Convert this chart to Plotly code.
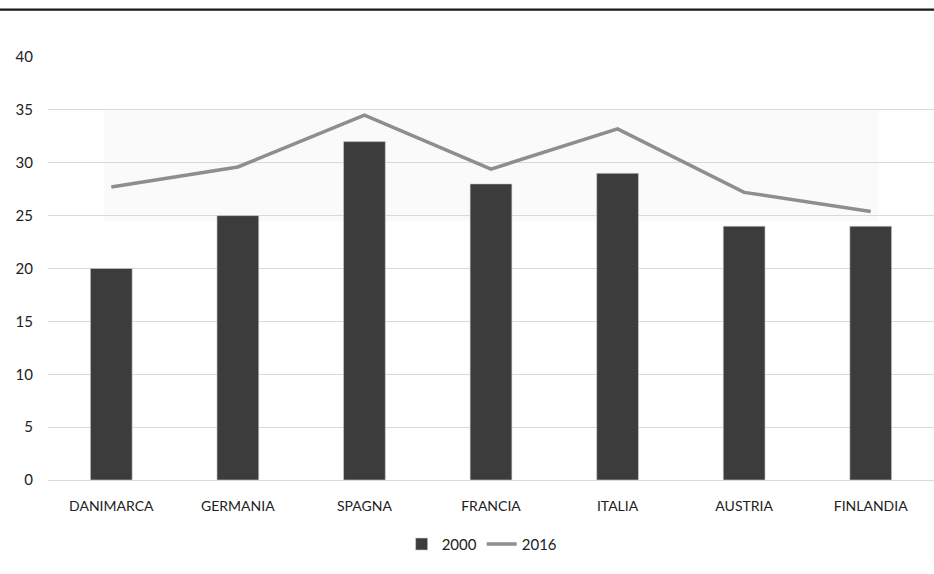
import plotly.graph_objects as go

paesi = ["DANIMARCA", "GERMANIA", "SPAGNA", "FRANCIA", "ITALIA", "AUSTRIA", "FINLANDIA"]
valori_2000 = [20, 25, 32, 28, 29, 24, 24]
valori_2016 = [27.7, 29.6, 34.5, 29.4, 33.2, 27.2, 25.4]
tick_y = [0, 5, 10, 15, 20, 25, 30, 35, 40]

FONT = "Lato, 'Open Sans', sans-serif"

fig = go.Figure()
fig.add_trace(go.Bar(
    x=paesi, y=valori_2000, name="2000",
    marker=dict(color="#3c3c3c", line=dict(color="#cfcfcf", width=0.6)),
))
fig.add_trace(go.Scatter(
    x=paesi, y=valori_2016, name="2016", mode="lines",
    line=dict(color="#8e8e8e", width=3.5),
))

# faint backdrop band behind the 2016 series
fig.add_shape(type="rect", xref="x", yref="y", x0=-0.06, x1=6.06, y0=24.5, y1=35.1,
              fillcolor="#fafafa", line=dict(width=0), layer="below")
# heavy rule across the top of the page
fig.add_shape(type="line", xref="paper", yref="paper", x0=-0.06, x1=1.0,
              y0=1.112, y1=1.112, line=dict(color="#1a1a1a", width=2.2))

fig.update_layout(
    width=934, height=574,
    margin=dict(l=48, r=0, t=57, b=94, autoexpand=False),
    paper_bgcolor="white", plot_bgcolor="white",
    bargap=0.67,
    showlegend=True,
    legend=dict(orientation="h", x=0.49, xanchor="center",
                y=-0.152, yanchor="middle",
                font=dict(family=FONT, size=15, color="#222"),
                itemwidth=30, tracegroupgap=0),
    font=dict(family=FONT, color="#222"),
)
fig.update_xaxes(showgrid=False, showline=False, ticks="", tickangle=0,
                 automargin=False, ticklabelstandoff=16,
                 tickfont=dict(family=FONT, size=14, color="#222"))
fig.update_yaxes(range=[0, 40], tickvals=tick_y, showgrid=True, gridcolor="#d9d9d9",
                 gridwidth=1.3, zeroline=True, zerolinecolor="#d9d9d9", zerolinewidth=1.3,
                 showline=False, ticks="", automargin=False, ticklabelstandoff=14,
                 tickfont=dict(family=FONT, size=15, color="#222"))

fig.write_html("out.html")
